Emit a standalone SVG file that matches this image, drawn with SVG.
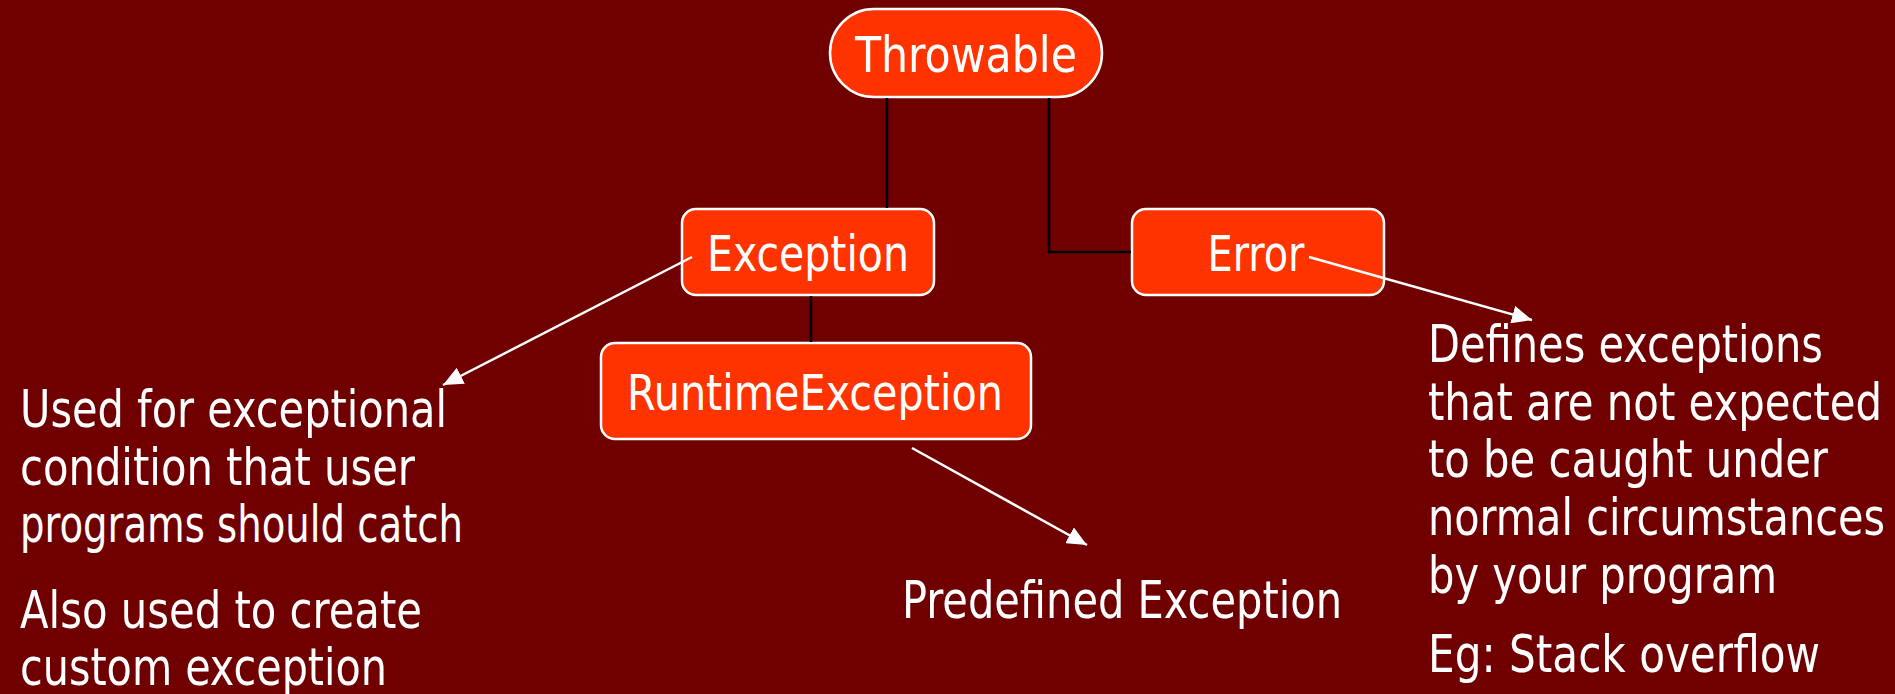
<svg xmlns="http://www.w3.org/2000/svg" width="1895" height="694" viewBox="0 0 1895 694">
<defs>
<style>
.node{fill:#FF3300;stroke:#FFFFFF;stroke-width:2.5}
.lbl{font-family:"DejaVu Sans Condensed","DejaVu Sans",sans-serif;font-size:50px;fill:#FFFFFF;text-anchor:middle}
.txt{font-family:"DejaVu Sans Condensed","DejaVu Sans",sans-serif;font-size:51px;fill:#FFFFFF}
.tree{fill:none;stroke:#000000;stroke-width:2.5}
.arr{fill:none;stroke:#FFFFFF;stroke-width:2.5;marker-end:url(#ah)}
</style>
<marker id="ah" markerUnits="userSpaceOnUse" markerWidth="22" markerHeight="18" refX="20" refY="9" orient="auto">
<path d="M0,0 L20,9 L0,18 Z" fill="#FFFFFF"/>
</marker>
</defs>
<rect width="1895" height="694" fill="#700000"/>
<g id="throwable">
<rect class="node" x="830" y="9" width="272" height="88" rx="44"/>
<text class="lbl" x="966" y="72" textLength="222" lengthAdjust="spacingAndGlyphs">Throwable</text>
</g>
<g id="exception">
<rect class="node" x="682" y="209" width="252" height="86" rx="14"/>
<text class="lbl" x="808" y="271" textLength="202" lengthAdjust="spacingAndGlyphs">Exception</text>
</g>
<g id="error">
<rect class="node" x="1132" y="209" width="252" height="86" rx="14"/>
<text class="lbl" x="1256" y="271" textLength="97" lengthAdjust="spacingAndGlyphs">Error</text>
</g>
<g id="runtimeexception">
<rect class="node" x="601" y="343" width="430" height="96" rx="14"/>
<text class="lbl" x="815" y="410" textLength="376" lengthAdjust="spacingAndGlyphs">RuntimeException</text>
</g>
<g id="note-exception">
<text class="txt" x="20" y="427" textLength="427" lengthAdjust="spacingAndGlyphs">Used for exceptional</text>
<text class="txt" x="20" y="485" textLength="395" lengthAdjust="spacingAndGlyphs">condition that user</text>
<text class="txt" x="20" y="542" textLength="443" lengthAdjust="spacingAndGlyphs">programs should catch</text>
<text class="txt" x="20" y="628" textLength="402" lengthAdjust="spacingAndGlyphs">Also used to create</text>
<text class="txt" x="20" y="685" textLength="367" lengthAdjust="spacingAndGlyphs">custom exception</text>
</g>
<g id="note-runtime">
<text class="txt" x="902" y="618" textLength="440" lengthAdjust="spacingAndGlyphs">Predefined Exception</text>
</g>
<g id="note-error">
<text class="txt" x="1428" y="362" textLength="395" lengthAdjust="spacingAndGlyphs">Defines exceptions</text>
<text class="txt" x="1428" y="420" textLength="454" lengthAdjust="spacingAndGlyphs">that are not expected</text>
<text class="txt" x="1428" y="477" textLength="400" lengthAdjust="spacingAndGlyphs">to be caught under</text>
<text class="txt" x="1428" y="535" textLength="457" lengthAdjust="spacingAndGlyphs">normal circumstances</text>
<text class="txt" x="1428" y="593" textLength="349" lengthAdjust="spacingAndGlyphs">by your program</text>
<text class="txt" x="1428" y="672" textLength="392" lengthAdjust="spacingAndGlyphs">Eg: Stack overflow</text>
</g>
<g id="connectors">
<path class="tree" d="M887,98 V208"/>
<path class="tree" d="M1049,98 V252 H1131"/>
<path class="tree" d="M811,296 V342"/>
<path class="arr" d="M692,257 L443,385"/>
<path class="arr" d="M1309,257 L1532,320"/>
<path class="arr" d="M912,448 L1087,545"/>
</g>
</svg>
